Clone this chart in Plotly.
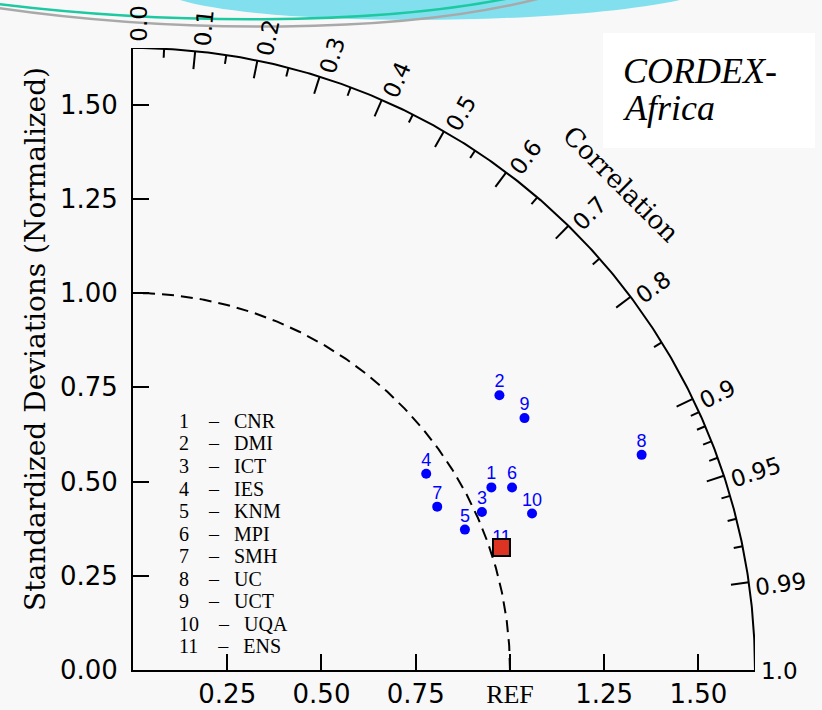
import numpy as np
import plotly.graph_objects as go

# ---------------- data ----------------
model_ids = ["1", "2", "3", "4", "5", "6", "7", "8", "9", "10", "11"]
model_names = ["CNR", "DMI", "ICT", "IES", "KNM", "MPI", "SMH", "UC", "UCT", "UQA", "ENS"]
correlation = [0.891, 0.800, 0.911, 0.831, 0.921, 0.901, 0.881, 0.921, 0.841, 0.931, 0.949]
std_norm = [1.067, 1.215, 1.016, 0.936, 0.956, 1.116, 0.916, 1.465, 1.235, 1.137, 1.030]

x_tickvals = [0.25, 0.50, 0.75, 1.00, 1.25, 1.50]
x_ticktext = ["0.25", "0.50", "0.75", "<span style='font-family:Liberation Serif'>REF</span>", "1.25", "1.50"]
y_tickvals = [0.00, 0.25, 0.50, 0.75, 1.00, 1.25, 1.50]
y_ticktext = ["0.00", "0.25", "0.50", "0.75", "1.00", "1.25", "1.50"]
corr_major = [0.0, 0.1, 0.2, 0.3, 0.4, 0.5, 0.6, 0.7, 0.8, 0.9, 0.95, 0.99, 1.0]
corr_major_text = ["0.0", "0.1", "0.2", "0.3", "0.4", "0.5", "0.6", "0.7", "0.8", "0.9", "0.95", "0.99", "1.0"]
corr_minor = [0.05, 0.15, 0.25, 0.35, 0.45, 0.55, 0.65, 0.75, 0.85,
              0.91, 0.92, 0.93, 0.94, 0.96, 0.97, 0.98]
ref_std = 1.0
title_box = ["CORDEX-", "Africa"]

# ---------------- geometry / style ----------------
SMAX = 1.65
W, H = 822, 710
ML, MR, MT, MB = 133, 67, 48, 40
PPU = (W - ML - MR) / SMAX           # pixels per data unit
BG = "#f8f8f8"
SANS = "DejaVu Sans"
SERIF = "DejaVu Serif"
TIMES = "Liberation Serif"


def px2paper(px, py):
    return (px - ML) / (W - ML - MR), (H - MB - py) / (H - MT - MB)


def pstr(px, py):
    a, b = px2paper(px, py)
    return f"{a:.5f},{b:.5f}"


fig = go.Figure()

# outer correlation arc (std = SMAX)
t = np.linspace(0, np.pi / 2, 300)
fig.add_trace(go.Scatter(x=SMAX * np.cos(t), y=SMAX * np.sin(t), mode="lines",
                         line=dict(color="black", width=2), hoverinfo="skip",
                         cliponaxis=False, showlegend=False))
# reference std arc (dashed)
fig.add_trace(go.Scatter(x=ref_std * np.cos(t), y=ref_std * np.sin(t), mode="lines",
                         line=dict(color="black", width=2, dash="12px,7px"),
                         hoverinfo="skip", showlegend=False))

# correlation ticks on the arc
tx, ty = [], []
for vals, ln in ((corr_major[1:-1], 18), (corr_minor, 9)):
    for c in vals:
        th = np.arccos(c)
        r0, r1 = SMAX, SMAX - ln / PPU
        tx += [r0 * np.cos(th), r1 * np.cos(th), None]
        ty += [r0 * np.sin(th), r1 * np.sin(th), None]
fig.add_trace(go.Scatter(x=tx, y=ty, mode="lines", line=dict(color="black", width=2),
                         hoverinfo="skip", showlegend=False))

# model points
theta = np.arccos(np.array(correlation))
sx = np.array(std_norm) * np.cos(theta)
sy = np.array(std_norm) * np.sin(theta)
fig.add_trace(go.Scatter(x=sx[:-1], y=sy[:-1], mode="markers",
                         marker=dict(color="#0000ff", size=10),
                         cliponaxis=False, hoverinfo="skip", showlegend=False))
# number labels just above each point (the ensemble label sits partly under its square)
label_lift_px = np.array([12.5] * (len(model_ids) - 1) + [9.5])
fig.add_trace(go.Scatter(x=sx, y=sy + label_lift_px / PPU, mode="text", text=model_ids,
                         textposition="middle center",
                         textfont=dict(family="Liberation Sans", size=18, color="#0000ff"),
                         cliponaxis=False, hoverinfo="skip", showlegend=False))
# ensemble drawn as a red square on top
fig.add_trace(go.Scatter(x=[sx[-1]], y=[sy[-1]], mode="markers",
                         marker=dict(symbol="square", color="#dd3322", size=17,
                                     line=dict(color="black", width=2)),
                         cliponaxis=False, hoverinfo="skip", showlegend=False))

annotations = []
# correlation labels (placed in paper coords so they may sit outside the axes range)
FS_C = 23
for c, lab in zip(corr_major, corr_major_text):
    th = np.arccos(c)
    ndig = sum(ch.isdigit() for ch in lab)
    w = ndig * 0.636 * FS_C + 0.318 * FS_C
    rc = (SMAX * PPU + 6 + w / 2) / PPU
    off = (6 if c < 1 else 1) / PPU
    xd = rc * np.cos(th) + off * np.sin(th)
    yd = rc * np.sin(th) - off * np.cos(th)
    annotations.append(dict(x=xd / SMAX, y=yd / SMAX,
                            xref="paper", yref="paper", text=lab, showarrow=False,
                            textangle=-np.degrees(th), xanchor="center", yanchor="middle",
                            font=dict(family=SANS, size=FS_C, color="black")))
# "Correlation" title along the arc
rt = 689 / PPU
annotations.append(dict(x=rt * np.cos(np.radians(44.9)) / SMAX, y=rt * np.sin(np.radians(44.9)) / SMAX,
                        xref="paper", yref="paper", text="Correlation", showarrow=False,
                        textangle=45, xanchor="center", yanchor="middle",
                        font=dict(family=SERIF, size=26, color="black")))
# y axis title
ax_, ay_ = px2paper(35, 339)
annotations.append(dict(x=ax_, y=ay_, xref="paper", yref="paper",
                        text="Standardized Deviations (Normalized)", showarrow=False,
                        textangle=-90, xanchor="center", yanchor="middle",
                        font=dict(family=SERIF, size=28, color="black")))
# model list
nb = "\u00a0"
for i, (mid, name) in enumerate(zip(model_ids, model_names)):
    lx, ly = px2paper(177, 421 + 22.5 * i)
    annotations.append(dict(x=lx, y=ly, xref="paper", yref="paper",
                            text=f"{mid}{nb*4}\u2013{nb*3}{name}", showarrow=False,
                            xanchor="left", yanchor="middle",
                            font=dict(family=TIMES, size=20, color="black")))
# CORDEX-Africa box text
for txt, py in zip(title_box, (70.5, 108.5)):
    bx, by = px2paper(621, py)
    annotations.append(dict(x=bx, y=by, xref="paper", yref="paper",
                            text=f"<i>{txt}</i>", showarrow=False,
                            xanchor="left", yanchor="middle",
                            font=dict(family=TIMES, size=36, color="black")))

x0b, y0b = px2paper(603, 33)
x1b, y1b = px2paper(815, 148)
shapes = [
    # decorative header
    dict(type="path", xref="paper", yref="paper",
         path=f"M {pstr(180,-3)} L {pstr(180,0)} C {pstr(270,27)} {pstr(560,26)} {pstr(680,0)} L {pstr(680,-3)} Z",
         fillcolor="#82e0ee", line=dict(width=0), layer="below"),
    dict(type="path", xref="paper", yref="paper",
         path=f"M {pstr(-2,4)} C {pstr(160,24)} {pstr(370,27)} {pstr(515,-3)}",
         line=dict(color="#1cc9a0", width=2.5), layer="below"),
    dict(type="path", xref="paper", yref="paper",
         path=f"M {pstr(-2,8)} C {pstr(170,33)} {pstr(400,36)} {pstr(545,-3)}",
         line=dict(color="#a9a9a9", width=2.5), layer="below"),
    # white title box
    dict(type="rect", xref="paper", yref="paper", x0=x0b, y0=y0b, x1=x1b, y1=y1b,
         fillcolor="white", line=dict(width=0), layer="below"),
]

fig.update_layout(
    width=W, height=H,
    margin=dict(l=ML, r=MR, t=MT, b=MB, pad=0, autoexpand=False),
    paper_bgcolor=BG, plot_bgcolor="rgba(0,0,0,0)",
    showlegend=False,
    annotations=annotations,
    shapes=shapes,
    xaxis=dict(range=[0, SMAX], tickvals=x_tickvals, ticktext=x_ticktext,
               showline=True, linecolor="black", linewidth=2, mirror=False,
               ticks="inside", ticklen=16, tickwidth=2, tickcolor="black",
               showgrid=False, zeroline=False, ticklabelstandoff=0, automargin=False,
               tickfont=dict(family=SANS, size=26, color="black")),
    yaxis=dict(range=[0, SMAX], tickvals=y_tickvals, ticktext=y_ticktext,
               showline=True, linecolor="black", linewidth=2, mirror=False,
               ticks="inside", ticklen=16, tickwidth=2, tickcolor="black",
               showgrid=False, zeroline=False, ticklabelstandoff=8, automargin=False,
               tickfont=dict(family=SANS, size=26, color="black")),
)

fig.write_html("out.html")
